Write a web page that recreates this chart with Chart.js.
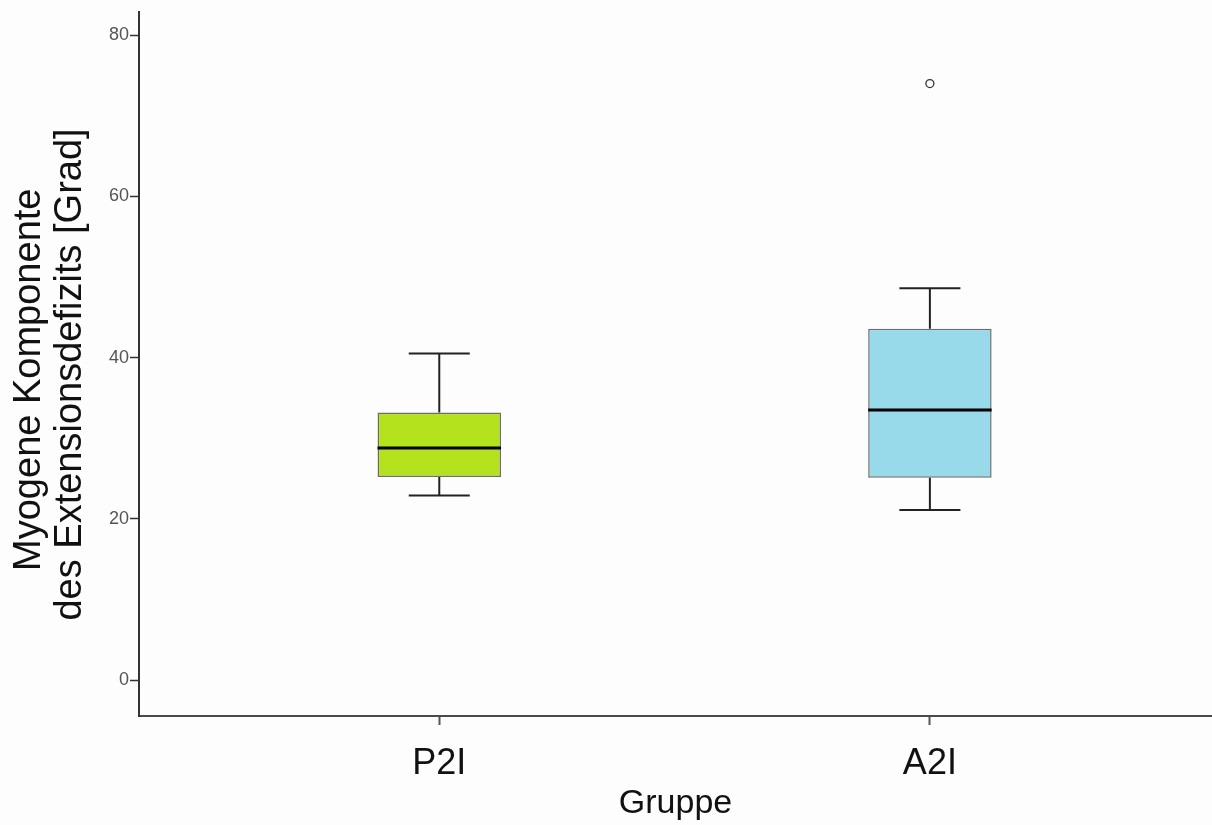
<!DOCTYPE html>
<html>
<head>
<meta charset="utf-8">
<script src="https://cdn.jsdelivr.net/npm/chart.js@4.4.1/dist/chart.umd.min.js"></script>
<style>
  html, body { margin: 0; padding: 0; background: #fdfdfd; }
  #wrap { width: 1212px; height: 825px; position: relative; }
</style>
</head>
<body>
<div id="wrap"><canvas id="c" width="1212" height="825"></canvas></div>
<script>
// ---- data ----
const categories   = ['P2I', 'A2I'];
const whiskerLow   = [22.9, 21.1];
const quartile1    = [25.2, 25.1];
const medians      = [28.8, 33.5];
const quartile3    = [33.2, 43.6];
const whiskerHigh  = [40.5, 48.6];
const outlierVals  = [[], [74.0]];
const yTickValues  = [0, 20, 40, 60, 80];
const yAxisTitle   = ['Myogene Komponente', 'des Extensionsdefizits [Grad]'];
const xAxisTitle   = 'Gruppe';

// ---- styling ----
const boxFill   = ['#b4e31e', '#98d9ea'];
const boxWidth  = 0.2516;          // in x-units (category spacing = 1)
const capHalf   = 0.0622;          // whisker cap half width, x-units
const positions = categories.map((_, i) => i + 1);
// trailing spaces nudge each centred title line toward the bottom, as in the reference
const yTitleShift = [3, 2];

const boxData = positions.map((x, i) => ({ x: x, y: [quartile1[i], quartile3[i]] }));

const whiskerData = [];
positions.forEach((x, i) => {
  whiskerData.push({ x: x, y: quartile3[i] }, { x: x, y: whiskerHigh[i] }, { x: x, y: null });
  whiskerData.push({ x: x - capHalf, y: whiskerHigh[i] }, { x: x + capHalf, y: whiskerHigh[i] }, { x: x, y: null });
  whiskerData.push({ x: x, y: quartile1[i] }, { x: x, y: whiskerLow[i] }, { x: x, y: null });
  whiskerData.push({ x: x - capHalf, y: whiskerLow[i] }, { x: x + capHalf, y: whiskerLow[i] }, { x: x, y: null });
});

const medianData = [];
positions.forEach((x, i) => {
  medianData.push({ x: x - boxWidth / 2, y: medians[i] }, { x: x + boxWidth / 2, y: medians[i] }, { x: x, y: null });
});

const outlierData = [];
positions.forEach((x, i) => outlierVals[i].forEach(v => outlierData.push({ x: x, y: v })));

const bgPlugin = {
  id: 'bg',
  beforeDraw(chart) {
    const ctx = chart.ctx;
    ctx.save();
    ctx.fillStyle = '#fdfdfd';
    ctx.fillRect(0, 0, chart.width, chart.height);
    ctx.restore();
  }
};

new Chart(document.getElementById('c'), {
  type: 'bar',
  data: {
    datasets: [
      {
        type: 'line', data: medianData, borderColor: '#000', borderWidth: 3,
        pointRadius: 0, spanGaps: false, order: 0
      },
      {
        type: 'scatter', data: outlierData, pointRadius: 4, pointBorderWidth: 1.3,
        borderColor: '#333', backgroundColor: '#fdfdfd', pointBackgroundColor: '#fdfdfd',
        pointBorderColor: '#333', order: 0
      },
      {
        type: 'line', data: whiskerData, borderColor: '#222', borderWidth: 2,
        pointRadius: 0, spanGaps: false, order: 1
      },
      {
        type: 'bar', data: boxData, backgroundColor: boxFill, borderColor: '#6e6e6e',
        borderWidth: 1.5, borderSkipped: false, categoryPercentage: 1,
        barPercentage: boxWidth, order: 2
      }
    ]
  },
  options: {
    responsive: false,
    animation: false,
    events: [],
    layout: { autoPadding: false, padding: { left: 0, right: 0, top: 10, bottom: 0 } },
    plugins: { legend: { display: false }, tooltip: { enabled: false } },
    scales: {
      x: {
        type: 'linear', offset: false, min: 0.388, max: 2.575,
        afterBuildTicks: (s) => { s.ticks = positions.map(v => ({ value: v })); },
        afterFit: (s) => { s.height = 109; s.paddingLeft = 0; s.paddingRight = 0; },
        ticks: {
          callback: (v) => categories[Math.round(v) - 1] || '',
          font: { family: 'Liberation Sans, Arial, sans-serif', size: 36 },
          color: '#111', padding: 17, maxRotation: 0, autoSkip: false
        },
        grid: { offset: false, drawOnChartArea: false, drawTicks: true, tickLength: 9, color: '#555', tickWidth: 2 },
        border: { display: true, color: '#4a4a4a', width: 2 },
        title: {
          display: true, text: xAxisTitle, color: '#111',
          font: { family: 'Liberation Sans, Arial, sans-serif', size: 34 },
          padding: { top: 0, bottom: 1 }
        }
      },
      y: {
        type: 'linear', min: -4.45, max: 82.9,
        afterBuildTicks: (s) => { s.ticks = yTickValues.map(v => ({ value: v })); },
        afterFit: (s) => { s.width = 139; },
        ticks: {
          font: { family: 'Liberation Sans, Arial, sans-serif', size: 18 },
          color: '#555', padding: 1
        },
        grid: { drawOnChartArea: false, drawTicks: true, tickLength: 9, color: '#333', tickWidth: 1.5 },
        border: { display: true, color: '#333', width: 2 },
        title: {
          display: true, text: yAxisTitle.map((t, i) => t + ' '.repeat(yTitleShift[i])), color: '#111',
          font: { family: 'Liberation Sans, Arial, sans-serif', size: 38, lineHeight: 1.08 },
          padding: { top: 9, bottom: 0 }
        }
      }
    }
  },
  plugins: [bgPlugin]
});
</script>
</body>
</html>
